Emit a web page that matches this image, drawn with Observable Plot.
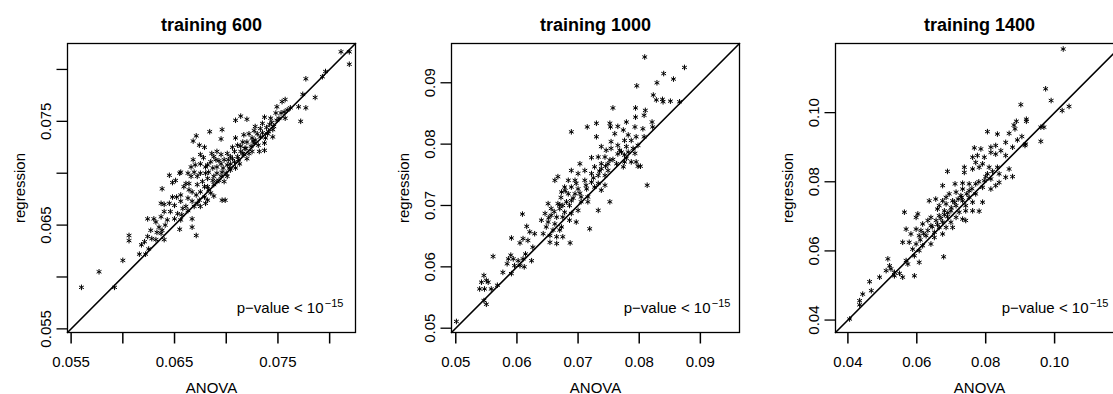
<!DOCTYPE html>
<html><head><meta charset="utf-8">
<script src="https://cdn.jsdelivr.net/npm/d3@7"></script>
<script src="https://cdn.jsdelivr.net/npm/@observablehq/plot@0.6"></script>
<style>
html,body{margin:0;padding:0;background:#fff;overflow:hidden;}
#row{display:flex;width:1113px;height:394px;overflow:hidden;}
#row > *{flex:none;}
</style></head><body><div id="row"></div>
<script>
const titles = ["training 600", "training 1000", "training 1400"];
const xLabel = "ANOVA";
const yLabel = "regression";
const pText = "p\u2212value < 10";
const pExp = "\u221215";

// [ANOVA, regression] pairs, training 600
const points600 = [
[0.0819,0.0817],[0.0811,0.0817],[0.0819,0.0805],[0.0796,0.0798],[0.0793,0.0793],[0.0777,0.0791],[0.0774,0.0776],[0.0786,0.0773],
[0.0772,0.0750],[0.0777,0.0763],[0.0770,0.0764],[0.0762,0.0763],[0.0757,0.0771],[0.0754,0.0769],[0.0749,0.0764],[0.0748,0.0758],
[0.0743,0.0753],[0.0757,0.0753],[0.0737,0.0754],[0.0742,0.0747],[0.0745,0.0742],[0.0745,0.0735],[0.0740,0.0738],[0.0733,0.0743],
[0.0728,0.0745],[0.0730,0.0738],[0.0725,0.0734],[0.0722,0.0738],[0.0717,0.0737],[0.0720,0.0730],[0.0714,0.0755],[0.0720,0.0752],
[0.0709,0.0751],[0.0737,0.0729],[0.0732,0.0721],[0.0737,0.0722],[0.0720,0.0714],[0.0714,0.0726],[0.0709,0.0734],[0.0711,0.0727],
[0.0708,0.0721],[0.0704,0.0716],[0.0708,0.0711],[0.0712,0.0713],[0.0709,0.0705],[0.0704,0.0703],[0.0701,0.0708],[0.0698,0.0713],
[0.0695,0.0718],[0.0691,0.0721],[0.0688,0.0716],[0.0685,0.0711],[0.0691,0.0706],[0.0696,0.0701],[0.0701,0.0697],[0.0698,0.0692],
[0.0693,0.0693],[0.0688,0.0697],[0.0684,0.0740],[0.0696,0.0742],[0.0695,0.0733],[0.0671,0.0736],[0.0668,0.0731],[0.0674,0.0727],
[0.0679,0.0725],[0.0675,0.0718],[0.0668,0.0713],[0.0666,0.0706],[0.0669,0.0701],[0.0675,0.0700],[0.0682,0.0695],[0.0677,0.0692],
[0.0672,0.0689],[0.0679,0.0687],[0.0683,0.0684],[0.0688,0.0689],[0.0685,0.0681],[0.0675,0.0682],[0.0671,0.0679],[0.0667,0.0682],
[0.0664,0.0690],[0.0661,0.0690],[0.0656,0.0701],[0.0651,0.0693],[0.0645,0.0698],[0.0648,0.0691],[0.0638,0.0685],[0.0648,0.0677],
[0.0656,0.0679],[0.0663,0.0676],[0.0667,0.0673],[0.0672,0.0671],[0.0675,0.0668],[0.0682,0.0674],[0.0688,0.0678],[0.0696,0.0674],
[0.0699,0.0674],[0.0656,0.0673],[0.0661,0.0668],[0.0650,0.0669],[0.0637,0.0671],[0.0640,0.0663],[0.0646,0.0663],[0.0653,0.0661],
[0.0657,0.0660],[0.0650,0.0656],[0.0656,0.0655],[0.0667,0.0656],[0.0667,0.0648],[0.0655,0.0646],[0.0643,0.0655],[0.0637,0.0658],
[0.0630,0.0656],[0.0624,0.0656],[0.0632,0.0653],[0.0635,0.0648],[0.0638,0.0645],[0.0637,0.0642],[0.0627,0.0645],[0.0624,0.0639],
[0.0618,0.0631],[0.0621,0.0634],[0.0628,0.0637],[0.0640,0.0636],[0.0671,0.0640],[0.0632,0.0636],[0.0625,0.0627],[0.0622,0.0622],
[0.0616,0.0622],[0.0606,0.0640],[0.0606,0.0635],[0.0600,0.0616],[0.0577,0.0605],[0.0560,0.0590],[0.0592,0.0590],[0.0655,0.0700],
[0.0640,0.0670],[0.0711,0.0716],[0.0716,0.0719],[0.0719,0.0724],[0.0724,0.0726],[0.0727,0.0729],[0.0722,0.0719],[0.0725,0.0721],
[0.0728,0.0732],[0.0733,0.0735],[0.0738,0.0734],[0.0741,0.0740],[0.0746,0.0745],[0.0749,0.0751],[0.0753,0.0758],[0.0756,0.0759],
[0.0759,0.0761],[0.0751,0.0753],[0.0704,0.0709],[0.0695,0.0709],[0.0690,0.0713],[0.0687,0.0705],[0.0683,0.0701],[0.0680,0.0700],
[0.0691,0.0700],[0.0695,0.0697],[0.0700,0.0700],[0.0703,0.0705],[0.0714,0.0721],[0.0717,0.0718],[0.0706,0.0714],[0.0701,0.0719],
[0.0675,0.0709],[0.0680,0.0706],[0.0672,0.0697],[0.0666,0.0697],[0.0663,0.0700],[0.0659,0.0687],[0.0679,0.0677],[0.0682,0.0687],
[0.0687,0.0693],[0.0691,0.0692],[0.0674,0.0674],[0.0669,0.0668],[0.0663,0.0664],[0.0680,0.0671],
[0.0713,0.0709],[0.0718,0.0724],[0.0726,0.0731],[0.0731,0.0727],[0.0735,0.0739],[0.0739,0.0744],[0.0744,0.0749],[0.0735,0.0748],
[0.0727,0.0741],[0.0716,0.0730],[0.0706,0.0725],[0.0702,0.0713],[0.0697,0.0705],[0.0693,0.0712],[0.0686,0.0719],[0.0682,0.0708],
[0.0678,0.0715],[0.0670,0.0708],[0.0664,0.0684],[0.0658,0.0666],[0.0652,0.0677],[0.0645,0.0671],[0.0641,0.0650],[0.0633,0.0643]
];

// training 1000
const points1000 = [
[0.0809,0.0942],[0.0874,0.0925],[0.0840,0.0915],[0.0856,0.0906],[0.0829,0.0900],[0.0796,0.0895],[0.0823,0.0880],[0.0838,0.0873],
[0.0828,0.0872],[0.0839,0.0869],[0.0851,0.0870],[0.0866,0.0869],[0.0757,0.0859],[0.0794,0.0859],[0.0810,0.0855],[0.0808,0.0847],
[0.0794,0.0844],[0.0821,0.0836],[0.0730,0.0834],[0.0752,0.0834],[0.0779,0.0836],[0.0715,0.0828],[0.0753,0.0828],[0.0765,0.0829],
[0.0774,0.0823],[0.0793,0.0828],[0.0806,0.0825],[0.0822,0.0828],[0.0689,0.0820],[0.0760,0.0817],[0.0782,0.0815],[0.0795,0.0812],
[0.0808,0.0812],[0.0730,0.0812],[0.0776,0.0806],[0.0787,0.0806],[0.0754,0.0804],[0.0765,0.0798],[0.0738,0.0796],[0.0798,0.0798],
[0.0754,0.0793],[0.0779,0.0796],[0.0790,0.0793],[0.0746,0.0790],[0.0771,0.0787],[0.0782,0.0787],[0.0793,0.0785],[0.0765,0.0784],
[0.0776,0.0782],[0.0733,0.0779],[0.0722,0.0778],[0.0744,0.0779],[0.0752,0.0774],[0.0738,0.0768],[0.0749,0.0768],[0.0763,0.0768],
[0.0776,0.0771],[0.0787,0.0771],[0.0795,0.0771],[0.0774,0.0763],[0.0802,0.0764],[0.0703,0.0768],[0.0727,0.0763],[0.0738,0.0760],
[0.0749,0.0757],[0.0689,0.0757],[0.0711,0.0757],[0.0722,0.0752],[0.0700,0.0752],[0.0733,0.0749],[0.0744,0.0749],[0.0667,0.0747],
[0.0662,0.0741],[0.0684,0.0741],[0.0695,0.0741],[0.0711,0.0741],[0.0722,0.0738],[0.0733,0.0736],[0.0744,0.0733],[0.0727,0.0730],
[0.0738,0.0725],[0.0678,0.0730],[0.0689,0.0730],[0.0700,0.0727],[0.0714,0.0727],[0.0673,0.0722],[0.0684,0.0719],[0.0695,0.0719],
[0.0705,0.0714],[0.0716,0.0714],[0.0689,0.0708],[0.0705,0.0706],[0.0716,0.0706],[0.0752,0.0706],[0.0651,0.0703],[0.0667,0.0703],
[0.0675,0.0700],[0.0686,0.0700],[0.0656,0.0695],[0.0670,0.0695],[0.0678,0.0689],[0.0689,0.0687],[0.0700,0.0692],[0.0733,0.0692],
[0.0646,0.0687],[0.0656,0.0684],[0.0665,0.0681],[0.0675,0.0681],[0.0686,0.0676],[0.0697,0.0673],[0.0640,0.0676],[0.0651,0.0673],
[0.0662,0.0670],[0.0673,0.0665],[0.0648,0.0665],[0.0659,0.0660],[0.0670,0.0660],[0.0719,0.0662],[0.0643,0.0654],[0.0654,0.0651],
[0.0665,0.0649],[0.0675,0.0649],[0.0654,0.0640],[0.0665,0.0638],[0.0687,0.0639],[0.0609,0.0686],[0.0616,0.0666],[0.0621,0.0657],
[0.0629,0.0654],[0.0591,0.0647],[0.0610,0.0646],[0.0618,0.0643],[0.0605,0.0639],[0.0626,0.0632],[0.0614,0.0621],[0.0561,0.0617],
[0.0590,0.0619],[0.0586,0.0613],[0.0594,0.0613],[0.0602,0.0610],[0.0610,0.0613],[0.0624,0.0610],[0.0584,0.0605],[0.0596,0.0602],
[0.0605,0.0602],[0.0612,0.0600],[0.0577,0.0591],[0.0591,0.0589],[0.0546,0.0586],[0.0542,0.0575],[0.0550,0.0578],[0.0553,0.0575],
[0.0539,0.0564],[0.0547,0.0564],[0.0568,0.0570],[0.0558,0.0564],[0.0546,0.0545],[0.0550,0.0539],[0.0501,0.0511],[0.0798,0.0764],
[0.0813,0.0733],
[0.0670,0.0701],[0.0681,0.0706],[0.0692,0.0712],[0.0703,0.0720],[0.0713,0.0733],[0.0725,0.0745],[0.0735,0.0756],[0.0745,0.0764],
[0.0757,0.0775],[0.0768,0.0790],[0.0779,0.0777],[0.0661,0.0690],[0.0652,0.0680],[0.0672,0.0713],[0.0679,0.0724],[0.0697,0.0736]
];

// training 1400
const points1400 = [
[0.1025,0.1184],[0.0974,0.1069],[0.0990,0.1035],[0.1042,0.1018],[0.1022,0.1006],[0.0902,0.1023],[0.0889,0.0975],[0.0918,0.0981],
[0.0918,0.0975],[0.0882,0.0964],[0.0885,0.0953],[0.0969,0.0958],[0.0805,0.0945],[0.0834,0.0938],[0.0868,0.0940],[0.0905,0.0931],
[0.0892,0.0921],[0.0960,0.0917],[0.0916,0.0909],[0.0858,0.0914],[0.0829,0.0905],[0.0815,0.0900],[0.0878,0.0900],[0.0767,0.0898],
[0.0786,0.0895],[0.0844,0.0890],[0.0815,0.0885],[0.0829,0.0880],[0.0858,0.0876],[0.0776,0.0876],[0.0796,0.0871],[0.0762,0.0871],
[0.0771,0.0856],[0.0791,0.0852],[0.0738,0.0842],[0.0762,0.0837],[0.0781,0.0842],[0.0810,0.0842],[0.0834,0.0842],[0.0868,0.0837],
[0.0689,0.0830],[0.0738,0.0827],[0.0805,0.0823],[0.0839,0.0823],[0.0858,0.0813],[0.0878,0.0815],[0.0815,0.0808],[0.0796,0.0803],
[0.0839,0.0798],[0.0771,0.0794],[0.0829,0.0789],[0.0675,0.0789],[0.0711,0.0794],[0.0733,0.0796],[0.0752,0.0794],[0.0791,0.0784],
[0.0815,0.0779],[0.0733,0.0779],[0.0714,0.0770],[0.0752,0.0774],[0.0771,0.0765],[0.0694,0.0765],[0.0728,0.0760],[0.0752,0.0755],
[0.0655,0.0750],[0.0636,0.0745],[0.0685,0.0755],[0.0675,0.0745],[0.0704,0.0745],[0.0733,0.0745],[0.0762,0.0741],[0.0791,0.0741],
[0.0665,0.0731],[0.0685,0.0736],[0.0714,0.0731],[0.0742,0.0731],[0.0762,0.0716],[0.0781,0.0715],[0.0660,0.0721],[0.0680,0.0716],
[0.0699,0.0716],[0.0723,0.0712],[0.0742,0.0716],[0.0564,0.0712],[0.0603,0.0707],[0.0598,0.0697],[0.0641,0.0697],[0.0665,0.0702],
[0.0689,0.0699],[0.0714,0.0697],[0.0733,0.0692],[0.0742,0.0688],[0.0632,0.0688],[0.0656,0.0688],[0.0675,0.0683],[0.0699,0.0683],
[0.0617,0.0678],[0.0641,0.0673],[0.0665,0.0668],[0.0685,0.0668],[0.0704,0.0668],[0.0569,0.0663],[0.0598,0.0663],[0.0612,0.0659],
[0.0632,0.0659],[0.0651,0.0654],[0.0675,0.0649],[0.0583,0.0649],[0.0607,0.0644],[0.0627,0.0644],[0.0651,0.0639],[0.0559,0.0625],
[0.0578,0.0625],[0.0598,0.0620],[0.0617,0.0615],[0.0641,0.0620],[0.0588,0.0605],[0.0607,0.0601],[0.0593,0.0586],[0.0678,0.0583],
[0.0569,0.0572],[0.0574,0.0562],[0.0607,0.0567],[0.0516,0.0577],[0.0521,0.0557],[0.0525,0.0548],[0.0511,0.0543],[0.0535,0.0538],
[0.0550,0.0535],[0.0559,0.0524],[0.0593,0.0528],[0.0535,0.0528],[0.0492,0.0524],[0.0463,0.0511],[0.0468,0.0485],[0.0443,0.0475],
[0.0434,0.0456],[0.0434,0.0444],[0.0405,0.0403],[0.0960,0.0958],[0.0914,0.0905],
[0.0660,0.0676],[0.0670,0.0694],[0.0680,0.0705],[0.0690,0.0710],[0.0700,0.0725],[0.0710,0.0740],[0.0720,0.0750],[0.0730,0.0755],
[0.0745,0.0765],[0.0760,0.0780],[0.0780,0.0800],[0.0800,0.0815],[0.0820,0.0830],[0.0620,0.0650],[0.0610,0.0632],[0.0645,0.0670]
];
const pointSets = [points600, points1000, points1400];

// axis limits (same for both axes) and ticks
const limits = [[0.05465, 0.0825], [0.0493, 0.0964], [0.0364, 0.1200]];
const tickValues = [
  [0.055, 0.060, 0.065, 0.070, 0.075, 0.080],
  [0.05, 0.06, 0.07, 0.08, 0.09],
  [0.04, 0.06, 0.08, 0.10]
];
const tickLabels = [
  ["0.055", "", "0.065", "", "0.075", ""],
  ["0.05", "0.06", "0.07", "0.08", "0.09"],
  ["0.04", "0.06", "0.08", "0.10"]
];

// layout (not data)
const W = 384, H = 394, ML = 67, MR = 29, MT = 43, MB = 62, TICK = 11;
const FW = W - ML - MR, FH = H - MT - MB;
const pInset = [12, 9, 15];
const FONT = "'Liberation Sans', Arial, Helvetica, sans-serif";

function panel(i) {
  const lim = limits[i];
  const span = lim[1] - lim[0];
  const tx = TICK / FW * span, ty = TICK / FH * span;   // tick length in data units
  const fmt = new Map(tickValues[i].map((t, k) => [t, tickLabels[i][k]]));
  return Plot.plot({
    width: W, height: H,
    marginLeft: ML, marginRight: MR, marginTop: MT, marginBottom: MB,
    style: {fontFamily: FONT, fontSize: "15px", color: "black", background: "white", overflow: "visible"},
    x: {domain: lim, axis: null},
    y: {domain: lim, axis: null},
    marks: [
      Plot.line(lim, {x: d => d, y: d => d, stroke: "black", strokeWidth: 1.6}),
      Plot.dot(pointSets[i], {x: d => d[0], y: d => d[1], symbol: "asterisk", r: 2.6, stroke: "black", strokeWidth: 1}),
      Plot.frame({stroke: "black", strokeWidth: 1.3}),
      // ticks
      Plot.link(tickValues[i], {x1: d => d, x2: d => d, y1: lim[0], y2: lim[0] - ty, stroke: "black", strokeWidth: 1.5}),
      Plot.link(tickValues[i], {y1: d => d, y2: d => d, x1: lim[0], x2: lim[0] - tx, stroke: "black", strokeWidth: 1.3}),
      // tick labels
      Plot.text(tickValues[i], {x: d => d, text: d => fmt.get(d), frameAnchor: "bottom", dy: 34, lineAnchor: "bottom", fontSize: 15}),
      Plot.text(tickValues[i], {y: d => d, text: d => fmt.get(d), frameAnchor: "left", dx: -17, rotate: -90, textAnchor: "middle", lineAnchor: "bottom", fontSize: 15}),
      Plot.text([titles[i]], {text: d => d, frameAnchor: "top", dy: -13, lineAnchor: "bottom", fontWeight: "bold", fontSize: 18}),
      Plot.text([xLabel], {text: d => d, frameAnchor: "bottom", dy: 60, lineAnchor: "bottom", fontSize: 15}),
      Plot.text([yLabel], {text: d => d, frameAnchor: "left", dx: -43, rotate: -90, textAnchor: "middle", lineAnchor: "bottom", fontSize: 15}),
      Plot.text([pText], {text: d => d, frameAnchor: "bottom-right", dx: -(pInset[i] + 20), dy: -20, textAnchor: "end", lineAnchor: "bottom", fontSize: 15}),
      Plot.text([pExp], {text: d => d, frameAnchor: "bottom-right", dx: -pInset[i], dy: -26, textAnchor: "end", lineAnchor: "bottom", fontSize: 11})
    ]
  });
}

const row = document.getElementById("row");
for (let i = 0; i < 3; i++) row.appendChild(panel(i));
</script>
</body></html>
